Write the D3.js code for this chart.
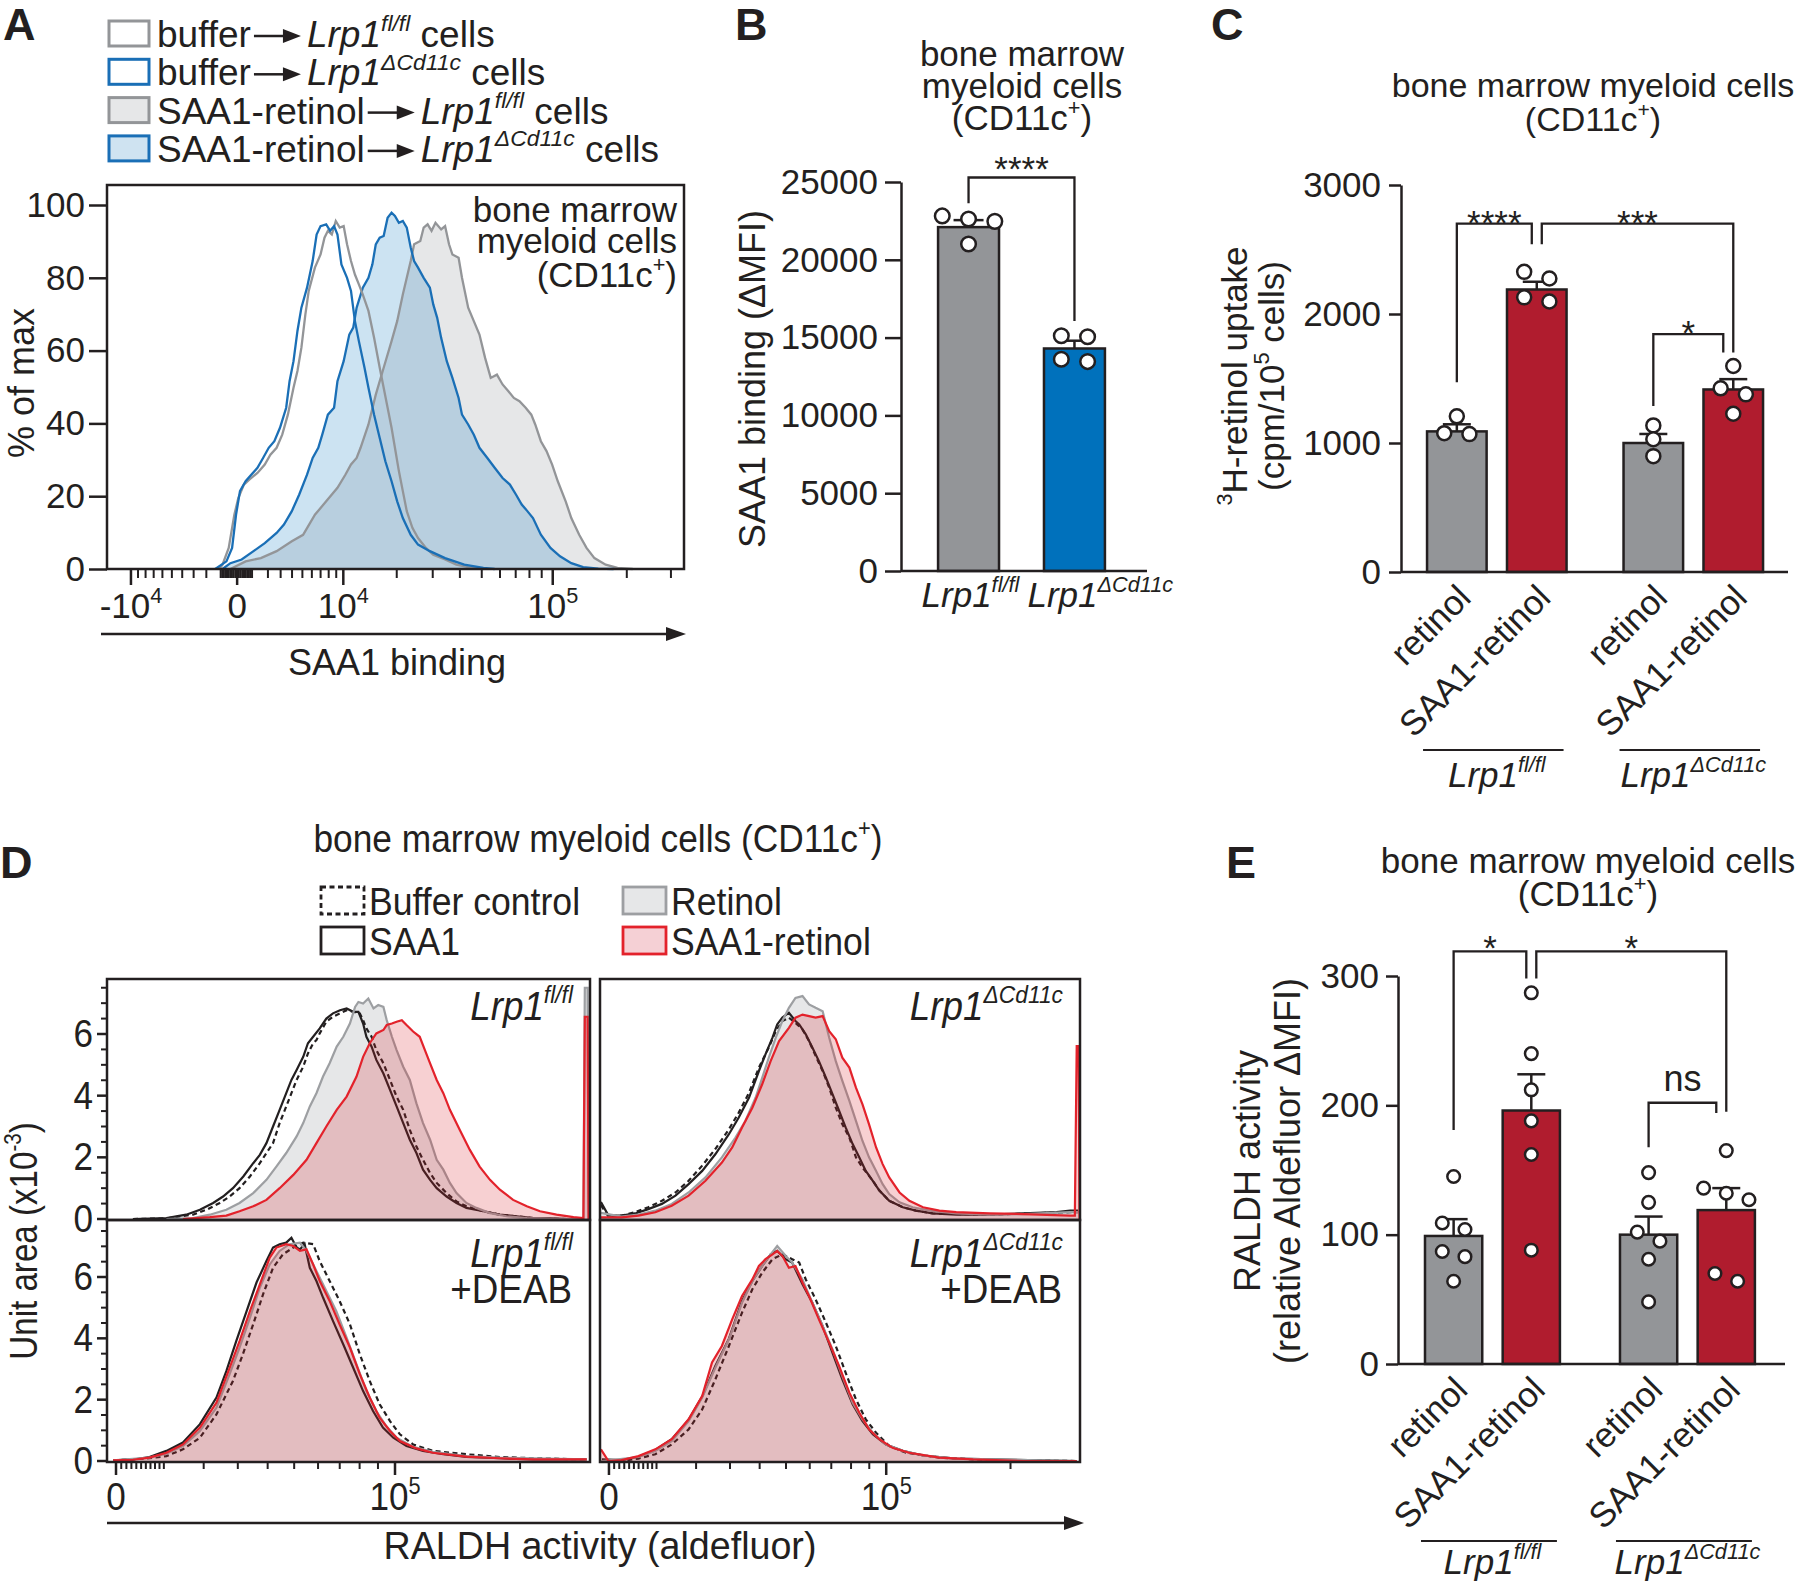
<!DOCTYPE html>
<html>
<head>
<meta charset="utf-8">
<script src="https://cdn.jsdelivr.net/npm/d3@7/dist/d3.min.js"></script>
<style>
html,body{margin:0;padding:0;background:#fff;}
svg{display:block;font-family:"Liberation Sans",Arial,Helvetica,sans-serif;}
</style>
</head>
<body>
<svg id="fig" width="1800" height="1585" viewBox="0 0 1800 1585"></svg>
<script>
// ======================= DATA =======================
// ---- Panel A: histograms, [display channel 0-1024, % of max]
const A_bufferFl = [[199,0],[205,1.2],[216,5.8],[226,14.9],[233,19.5],[243,23.2],[253,24.6],[267,26.4],[280,28.7],[290,31.4],[301,33.3],[311,36.9],[321,42.4],[331,49.8],[338,54.4],[345,60.8],[352,69.9],[358,76.4],[369,82.8],[379,86.4],[386,91.0],[392,92.9],[399,91.9],[406,95.6],[413,93.8],[420,94.2],[426,89.2],[433,84.6],[440,80.9],[447,78.2],[454,75.4],[464,70.9],[474,63.5],[484,55.3],[491,49.8],[498,44.3],[505,38.8],[511,33.3],[518,26.9],[525,21.4],[532,15.9],[542,11.3],[552,8.5],[566,5.8],[579,3.9],[600,2.6],[620,1.2],[641,0.5],[668,0]];
const A_bufferCd = [[192,0],[212,2.1],[222,5.8],[229,14.9],[236,21.4],[246,24.1],[256,25.9],[267,27.8],[277,30.5],[287,33.3],[297,35.1],[307,38.8],[318,44.3],[324,51.6],[331,57.1],[338,65.4],[345,71.8],[355,77.3],[365,84.6],[372,91.9],[379,94.2],[389,94.7],[396,92.9],[403,94.2],[409,91.9],[416,83.7],[426,80.0],[433,76.4],[440,68.1],[447,62.6],[457,55.3],[464,49.8],[474,42.4],[484,36.0],[494,29.6],[505,24.1],[515,18.6],[525,14.0],[539,9.4],[552,6.7],[573,4.9],[600,3.0],[634,1.2],[668,0.3],[688,0]];
const A_saaRetFl = [[219,0],[246,2.1],[273,3.0],[301,4.9],[328,7.6],[348,9.4],[369,14.9],[389,18.6],[409,22.3],[423,25.9],[433,28.7],[443,30.5],[450,33.3],[464,39.7],[477,47.9],[491,55.3],[505,62.6],[515,68.1],[525,75.4],[532,80.0],[539,84.6],[545,89.2],[556,90.1],[562,93.8],[569,94.7],[576,92.9],[583,95.1],[593,93.3],[600,94.2],[607,89.2],[613,86.4],[624,85.5],[630,80.0],[641,71.8],[651,68.1],[661,64.4],[671,58.0],[681,52.5],[692,53.4],[702,50.7],[712,48.9],[722,47.0],[732,46.1],[743,44.3],[753,42.4],[760,39.7],[770,35.1],[780,32.4],[790,28.7],[800,24.1],[814,18.6],[824,14.0],[838,9.4],[851,5.8],[865,3.0],[885,1.2],[906,0.3],[933,0]];
const A_saaRetCd = [[205,0],[219,1.6],[239,2.6],[260,4.9],[280,7.1],[301,9.9],[314,12.2],[328,15.9],[341,20.4],[355,25.9],[365,30.5],[375,33.3],[382,36.9],[392,42.4],[403,44.3],[409,51.6],[420,57.1],[430,64.4],[437,66.3],[443,71.8],[454,77.3],[464,80.0],[471,83.7],[477,89.2],[484,91.0],[491,91.5],[498,96.5],[505,97.9],[511,97.0],[518,95.1],[525,95.6],[532,93.8],[539,88.3],[545,84.6],[552,82.8],[562,80.0],[573,77.3],[579,72.7],[586,69.0],[593,63.5],[603,57.1],[613,52.5],[624,47.0],[630,42.4],[641,39.7],[651,36.9],[661,33.3],[675,30.5],[688,27.8],[702,25.0],[715,23.2],[726,20.4],[736,17.7],[746,15.9],[756,14.0],[770,9.4],[787,5.8],[804,3.5],[824,1.6],[845,0.5],[872,0.1],[899,0]];
const A_yTicks = [0,20,40,60,80,100];
const A_xMajor = [-1e4, 0, 1e4, 1e5];
const A_xMajorLabels = [["-10","4"],["0",""],["10","4"],["10","5"]];
const A_legendPre = ["buffer","buffer","SAA1-retinol","SAA1-retinol"];
const A_legendGeno = ["fl","cd","fl","cd"];
const A_note = ["bone marrow","myeloid cells"];

// ---- Panel B
const B_geno = ["fl","cd"];
const B_means = [22100, 14300];
const B_sem = [450, 500];
const B_points = [[22820,22470,22620,21020],[15058,15116,13459,13605]];
const B_yTicks = [0,5000,10000,15000,20000,25000];
const B_brackets = [{from:0,to:1,top:25290,left:23630,right:16070,label:"****"}];

// ---- Panels C & E (shared categories)
const CE_geno = ["fl","cd"];
const CE_treat = ["retinol","SAA1-retinol"];
const C_means = [1090, 2190, 1000, 1415];
const C_sem = [55, 60, 70, 80];
const C_points = [[1207,1069,1076],[2275,2327,2097,2129],[1136,1029,898],[1597,1424,1377,1227]];
const C_yTicks = [0,1000,2000,3000];
const C_brackets = [
  {from:0,to:1,top:2700,left:1470,right:2541,label:"****"},
  {from:1,to:3,top:2700,left:2541,right:1702,label:"***"},
  {from:2,to:3,top:1844,left:1286,right:1702,label:"*"}];
const E_means = [99, 196, 100, 119];
const E_sem = [13, 28, 14, 17];
const E_points = [[145,109,104,87,83,64],[287,240,212,188,162,88],[148,125,102,95,81,48],[165,136,132,127,70,64]];
const E_yTicks = [0,100,200,300];
const E_brackets = [
  {from:0,to:1,top:319,left:181,right:298,label:"*"},
  {from:1,to:3,top:319,left:298,right:195,label:"*"},
  {from:2,to:3,top:202,left:167.5,right:194,label:"ns"}];

// ---- Panel D: histograms, [display channel 0-1024, unit area x10^-3]
const TL_buffer = [[55,0],[126,0.02],[182,0.14],[211,0.30],[239,0.52],[260,0.73],[281,1.00],[303,1.38],[324,1.81],[338,2.14],[352,2.46],[366,3.11],[380,3.65],[391,4.08],[402,4.51],[416,4.94],[426,5.37],[437,5.70],[444,5.80],[451,6.02],[465,6.40],[479,6.56],[494,6.67],[508,6.77],[522,6.72],[536,6.67],[543,6.45],[550,6.18],[561,5.91],[571,5.48],[586,5.05],[600,4.51],[614,3.97],[628,3.54],[642,2.89],[656,2.35],[670,1.92],[685,1.49],[699,1.17],[720,0.84],[741,0.57],[762,0.41],[798,0.25],[833,0.14],[868,0.09],[904,0.03],[975,0],[1006,0]];
const TL_saa1 = [[55,0],[126,0.03],[168,0.14],[197,0.30],[225,0.52],[246,0.73],[267,1.00],[289,1.38],[310,1.81],[324,2.08],[338,2.46],[352,3.00],[366,3.54],[380,4.08],[391,4.51],[402,4.83],[416,5.26],[426,5.70],[437,5.91],[451,6.18],[465,6.50],[479,6.67],[494,6.77],[508,6.83],[522,6.72],[533,6.72],[543,6.34],[550,5.91],[561,5.59],[571,5.16],[586,4.72],[600,4.19],[614,3.65],[628,3.11],[642,2.57],[656,2.14],[670,1.60],[685,1.27],[699,1.00],[720,0.73],[741,0.52],[762,0.36],[798,0.25],[833,0.14],[868,0.09],[904,0.03],[939,0.03],[975,0],[1006,0]];
const TL_retinol = [[126,0],[182,0.03],[218,0.14],[253,0.30],[281,0.52],[310,0.84],[338,1.27],[359,1.70],[380,2.14],[402,2.68],[416,3.11],[430,3.65],[444,4.08],[458,4.62],[472,5.05],[487,5.59],[501,5.91],[515,6.34],[526,6.88],[533,7.04],[543,6.99],[554,7.15],[565,6.83],[575,6.94],[586,6.88],[593,6.45],[604,5.91],[614,5.48],[628,4.94],[642,4.51],[656,3.75],[670,3.11],[685,2.57],[699,1.92],[713,1.60],[727,1.17],[741,0.84],[762,0.52],[783,0.36],[812,0.19],[847,0.09],[890,0.03],[939,0.01],[1010,0],[1013,7.5],[1019,7.5],[1021,0]];
const TL_saaRet = [[161,0],[218,0.06],[253,0.11],[281,0.25],[310,0.41],[338,0.62],[366,1.00],[395,1.43],[423,1.92],[444,2.46],[465,3.00],[487,3.54],[508,3.97],[529,4.62],[543,5.26],[557,5.70],[571,6.02],[586,6.13],[593,6.29],[604,6.34],[614,6.40],[625,6.45],[635,6.29],[649,6.08],[663,5.91],[674,5.48],[685,5.05],[699,4.51],[713,4.08],[727,3.54],[748,2.89],[769,2.25],[790,1.70],[812,1.27],[833,0.95],[861,0.62],[890,0.41],[918,0.25],[953,0.14],[989,0.06],[1010,0.03],[1013,6.56],[1019,6.56],[1021,0]];

const TR_saa1 = [[2,0.55],[18,0.11],[46,0.11],[75,0.18],[103,0.32],[132,0.49],[161,0.76],[189,1.13],[218,1.56],[246,2.10],[275,2.75],[296,3.29],[318,3.94],[339,4.80],[353,5.34],[368,5.88],[378,6.31],[389,6.53],[403,6.69],[417,6.42],[425,6.31],[439,5.99],[453,5.56],[467,5.12],[482,4.58],[496,4.05],[510,3.51],[524,2.97],[539,2.43],[553,2.00],[567,1.56],[582,1.24],[596,0.92],[617,0.59],[646,0.38],[674,0.27],[710,0.18],[760,0.14],[831,0.14],[903,0.18],[974,0.22],[1003,0.27],[1020,0.27]];
const TR_buffer = [[2,0.45],[18,0.08],[46,0.11],[75,0.22],[103,0.38],[132,0.59],[161,0.86],[189,1.24],[218,1.73],[246,2.27],[275,2.91],[296,3.45],[318,4.10],[339,4.91],[360,5.56],[375,6.09],[389,6.42],[403,6.53],[417,6.36],[432,6.15],[446,5.77],[460,5.29],[475,4.80],[489,4.26],[503,3.61],[517,3.07],[532,2.64],[546,2.00],[560,1.67],[582,1.24],[596,0.92],[617,0.59],[646,0.38],[674,0.27],[710,0.18],[831,0.14],[1003,0.22],[1020,0.22]];
const TR_retinol = [[2,0.2],[46,0.08],[82,0.14],[118,0.27],[153,0.49],[189,0.86],[225,1.35],[260,2.00],[289,2.64],[310,3.18],[332,3.94],[346,4.58],[360,5.23],[375,5.88],[389,6.42],[403,6.85],[417,7.17],[432,7.23],[446,6.96],[460,6.85],[475,6.74],[489,5.88],[503,5.12],[517,4.48],[532,3.83],[546,3.18],[560,2.53],[574,2.00],[589,1.56],[603,1.13],[617,0.81],[639,0.54],[667,0.38],[703,0.27],[760,0.18],[831,0.14],[903,0.16],[1003,0.22],[1020,0.22]];
const TR_saaRet = [[2,0.05],[46,0.05],[82,0.11],[118,0.22],[153,0.43],[189,0.76],[225,1.24],[260,1.83],[282,2.32],[303,2.97],[325,3.61],[346,4.37],[364,5.12],[382,5.77],[403,6.20],[417,6.53],[432,6.63],[446,6.58],[460,6.53],[475,6.58],[489,6.09],[503,5.83],[517,5.23],[532,4.91],[546,4.26],[560,3.72],[574,3.07],[589,2.32],[603,1.78],[617,1.35],[639,0.86],[660,0.59],[689,0.38],[724,0.27],[760,0.22],[831,0.18],[903,0.16],[1003,0.11],[1013,0.11],[1017,5.61],[1021,5.61],[1023,0]];

const BL_saa1 = [[13,0.02],[55,0.05],[90,0.13],[126,0.33],[161,0.60],[197,1.20],[232,2.07],[253,2.93],[274,3.91],[296,4.89],[317,5.82],[338,6.52],[352,6.96],[366,7.07],[380,7.12],[391,7.28],[402,6.96],[409,6.90],[419,7.07],[430,6.30],[444,5.87],[458,5.33],[479,4.57],[501,3.80],[522,3.04],[543,2.28],[564,1.63],[585,1.09],[607,0.76],[635,0.49],[670,0.33],[713,0.22],[762,0.13],[833,0.09],[904,0.05],[1017,0.05]];
const BL_saaRet = [[13,0.02],[55,0.04],[90,0.11],[126,0.27],[161,0.54],[197,1.09],[232,1.90],[260,3.04],[281,3.91],[303,4.89],[324,5.76],[345,6.63],[359,6.96],[380,7.07],[395,7.01],[409,6.85],[423,6.90],[437,6.41],[451,5.87],[472,5.22],[493,4.46],[515,3.70],[536,2.83],[557,2.07],[578,1.41],[600,0.98],[621,0.65],[656,0.41],[691,0.27],[762,0.14],[833,0.09],[904,0.05],[1017,0.05]];
const BL_retinol = [[13,0.02],[90,0.11],[126,0.24],[161,0.49],[197,0.98],[232,1.74],[260,2.83],[281,3.70],[303,4.67],[324,5.65],[345,6.41],[366,6.85],[387,7.07],[409,7.12],[423,6.85],[444,6.20],[465,5.54],[486,4.89],[508,4.02],[529,3.15],[550,2.28],[571,1.63],[592,1.14],[614,0.76],[649,0.46],[691,0.30],[762,0.16],[833,0.11],[1017,0.05]];
const BL_buffer = [[13,0.02],[90,0.09],[126,0.16],[161,0.38],[197,0.76],[232,1.52],[267,2.61],[288,3.48],[310,4.46],[331,5.44],[352,6.30],[373,6.74],[395,6.96],[416,7.12],[437,7.07],[451,6.52],[472,5.87],[493,5.22],[515,4.46],[536,3.48],[557,2.61],[578,1.85],[600,1.30],[621,0.87],[649,0.54],[691,0.33],[762,0.22],[833,0.13],[904,0.09],[1017,0.05]];

const BR_saaRet = [[2,0.38],[18,0],[46,0.03],[82,0.16],[118,0.38],[153,0.71],[189,1.36],[218,2.12],[239,3.21],[260,3.75],[282,4.62],[303,5.38],[325,5.92],[339,6.36],[353,6.58],[368,6.74],[378,6.85],[389,6.69],[403,6.30],[417,6.36],[432,5.82],[446,5.38],[467,4.62],[489,3.86],[510,3.10],[532,2.23],[553,1.58],[574,1.03],[596,0.71],[624,0.43],[660,0.27],[724,0.11],[796,0.05],[903,0],[1017,0]];
const BR_retinol = [[4,0],[82,0.13],[118,0.33],[153,0.65],[189,1.30],[218,2.07],[246,3.04],[275,3.97],[303,5.16],[325,5.87],[346,6.36],[364,6.74],[378,7.01],[396,6.69],[410,6.47],[432,5.92],[453,5.16],[475,4.40],[496,3.64],[517,2.77],[539,1.90],[560,1.36],[582,0.92],[610,0.54],[646,0.33],[689,0.18],[760,0.08],[1017,0]];
const BR_saa1 = [[4,0.05],[46,0.03],[82,0.14],[118,0.36],[153,0.71],[189,1.34],[218,2.10],[246,3.10],[275,3.99],[303,5.22],[325,5.87],[346,6.36],[364,6.74],[378,6.85],[396,6.58],[410,6.47],[432,5.76],[453,5.16],[475,4.40],[496,3.53],[517,2.66],[539,1.85],[560,1.30],[582,0.87],[610,0.54],[646,0.33],[689,0.18],[760,0.08],[1017,0]];
const BR_buffer = [[4,0],[46,0],[82,0.08],[118,0.22],[153,0.54],[189,1.03],[218,1.68],[246,2.66],[275,3.75],[303,4.84],[325,5.60],[346,6.14],[368,6.58],[389,6.74],[410,6.58],[425,6.47],[439,5.92],[460,5.27],[482,4.51],[503,3.75],[524,2.88],[546,2.01],[567,1.36],[589,0.92],[617,0.49],[653,0.27],[724,0.11],[831,0.03],[1017,0]];

const D_yMajor = [0,2,4,6];
const D_xMajor = [0, 1e5];
const D_xMajorLabels = [["0",""],["10","5"]];
const D_legend = ["Buffer control","SAA1","Retinol","SAA1-retinol"];

// ======================= DRAWING =======================
const INK = "#231f20";
const GRAY = "#939598", LGRAY = "#e6e7e8";
const BLUE = "#0071bc", BLUELINE = "#1a6fb6";
const RED = "#b01c2e", REDLINE = "#e3222b";
const svg = d3.select("#fig");
const FS = 35;

function rich(g, x, y, segs, o = {}) {
  const size = o.size || FS;
  const t = g.append("text").attr("font-size", size).attr("fill", INK)
    .attr("text-anchor", o.anchor || "start");
  let tr = `translate(${x},${y})`;
  if (o.rot) tr += ` rotate(${o.rot})`;
  if (o.sx) tr += ` scale(${o.sx},1)`;
  t.attr("transform", tr);
  if (o.weight) t.attr("font-weight", o.weight);
  if (o.dy) t.attr("dy", o.dy);
  let shift = 0;
  (typeof segs === "string" ? [{t: segs}] : segs).forEach(s => {
    const sp = t.append("tspan").text(s.t);
    if (s.i) sp.attr("font-style", "italic");
    const target = s.sup ? -0.42 * size : 0;
    if (target !== shift) sp.attr("dy", target - shift);
    shift = target;
    if (s.sup) sp.attr("font-size", size * 0.62);
  });
  return t;
}
const geno = k => k === "fl"
  ? [{t:"Lrp1", i:1},{t:"fl/fl", i:1, sup:1}]
  : [{t:"Lrp1", i:1},{t:"\u0394Cd11c", i:1, sup:1}];
const cd11c = pre => [{t: pre + "(CD11c"},{t:"+", sup:1},{t:")"}];

function styleAxis(g, size, sw) {
  g.attr("font-size", size).attr("font-family", null).attr("color", INK);
  g.selectAll("line").attr("stroke-width", sw);
  g.selectAll("path").attr("stroke-width", sw);
}
function arrow(g, x0, x1, y, head, half) {
  g.append("line").attr("x1", x0).attr("x2", x1 - head + 2).attr("y1", y).attr("y2", y)
    .attr("stroke", INK).attr("stroke-width", 2.5);
  g.append("path").attr("d", `M${x1},${y}L${x1-head},${y-half}L${x1-head},${y+half}Z`).attr("fill", INK);
}

// panel letters
[["A",3,40],["B",735,40],["C",1211,40],["D",0,878],["E",1226,878]].forEach(([l,x,y]) =>
  rich(svg, x, y, l, {size: 45, weight: "bold"}));

// ---------------- Panel A ----------------
(function(){
  const g = svg.append("g");
  const xA = d3.scaleLinear().domain([0,1024]).range([107,684]);
  const chA = d3.scaleSymlog().constant(6300).domain([-13900,338000]).range([0,1024]);
  const yA = d3.scaleLinear().domain([0,100]).range([569,205]);
  const area = d3.area().x(d=>xA(d[0])).y0(yA(0)).y1(d=>yA(d[1]));
  const line = d3.line().x(d=>xA(d[0])).y(d=>yA(d[1]));
  g.append("path").datum(A_saaRetFl).attr("d", area).attr("fill", LGRAY);
  g.append("path").datum(A_saaRetCd).attr("d", area).attr("fill", BLUE).attr("fill-opacity", 0.2);
  [[A_saaRetFl,GRAY],[A_saaRetCd,BLUELINE],[A_bufferFl,GRAY],[A_bufferCd,BLUELINE]].forEach(([d,c]) =>
    g.append("path").datum(d).attr("d", line).attr("fill","none").attr("stroke", c).attr("stroke-width", 2.3));
  g.append("rect").attr("x",107).attr("y",185).attr("width",577).attr("height",384)
    .attr("fill","none").attr("stroke",INK).attr("stroke-width",2.5);
  const ax = g.append("g").attr("transform","translate(107,0)")
    .call(d3.axisLeft(yA).tickValues(A_yTicks).tickSize(18).tickPadding(4).tickSizeOuter(0));
  ax.select(".domain").remove();
  styleAxis(ax, 35, 2.5);
  const minor = [].concat(d3.range(-9000,0,1000), d3.range(-900,1000,100).filter(v=>v!==0),
    d3.range(2000,10000,1000), d3.range(20000,100000,10000), [200000,300000]);
  minor.forEach(v => g.append("line").attr("x1", xA(chA(v))).attr("x2", xA(chA(v)))
    .attr("y1",569).attr("y2",578).attr("stroke",INK).attr("stroke-width",2));
  A_xMajor.forEach((v,i) => {
    const x = xA(chA(v));
    g.append("line").attr("x1",x).attr("x2",x).attr("y1",569).attr("y2",585).attr("stroke",INK).attr("stroke-width",2.5);
    const [b,s] = A_xMajorLabels[i];
    rich(g, x, 618, s ? [{t:b},{t:s,sup:1}] : b, {anchor:"middle"});
  });
  arrow(g, 101, 686, 634, 20, 7);
  rich(g, 397, 675, "SAA1 binding", {anchor:"middle", size:36});
  rich(g, 34, 383, "% of max", {anchor:"middle", size:36, rot:-90});
  rich(g, 677, 222, A_note[0], {anchor:"end"});
  rich(g, 677, 253, A_note[1], {anchor:"end"});
  rich(g, 677, 287, cd11c(""), {anchor:"end"});
  const sw = [{s:GRAY,f:"#fff"},{s:BLUELINE,f:"#fff"},{s:GRAY,f:LGRAY},{s:BLUELINE,f:"#cfe3f1"}];
  A_legendPre.forEach((pre,i) => {
    const by = 47 + i*38.3;
    g.append("rect").attr("x",109).attr("y",by-26).attr("width",40).attr("height",25)
      .attr("fill",sw[i].f).attr("stroke",sw[i].s).attr("stroke-width",3);
    const t = rich(g, 157, by, pre, {size:37});
    const w = t.node().getComputedTextLength();
    const x0 = 157 + w + 3, x1 = x0 + 47;
    arrow(g, x0, x1, by-11, 18, 7);
    rich(g, x1 + 6, by, geno(A_legendGeno[i]).concat([{t:" cells"}]), {size:37});
  });
})();

// ---------------- bar chart helpers ----------------
function dodge(vals, y, r) {
  const idx = vals.map((v,i)=>i).sort((a,b)=>vals[b]-vals[a]);
  const off = vals.map(()=>0);
  let cl = [idx[0]];
  const flush = () => { const n = cl.length; cl.forEach((k,j)=> off[k] = (j-(n-1)/2)*3.6*r); };
  for (let m=1; m<idx.length; m++) {
    if (Math.abs(y(vals[idx[m-1]]) - y(vals[idx[m]])) < 12) cl.push(idx[m]);
    else { flush(); cl = [idx[m]]; }
  }
  flush();
  return off;
}
function bracketXs(brs, centers) {
  return brs.map((b,k) => {
    let xl = centers[b.from], xr = centers[b.to];
    brs.forEach((o,j) => {
      if (j === k) return;
      if (b.to === o.from && o.to > b.to) xr -= 5;
      if (b.from === o.to && o.from < b.from) xl += 5;
      if ((b.to - b.from) < (o.to - o.from)) {
        if (b.to === o.to) xr -= 10;
        if (b.from === o.from) xl += 10;
      }
    });
    return [xl, xr];
  });
}
function bars(g, cfg) {
  const {xs, bw, y, means, sem, points, colors, r, cap, brackets, starOff} = cfg;
  const centers = xs.map(x => x + bw/2);
  means.forEach((m,i) => {
    g.append("rect").attr("x", xs[i]).attr("y", y(m)).attr("width", bw).attr("height", y(0)-y(m))
      .attr("fill", colors[i]).attr("stroke", INK).attr("stroke-width", 2.5);
    g.append("line").attr("x1",centers[i]).attr("x2",centers[i]).attr("y1",y(m)).attr("y2",y(m+sem[i]))
      .attr("stroke",INK).attr("stroke-width",2.5);
    g.append("line").attr("x1",centers[i]-cap/2).attr("x2",centers[i]+cap/2).attr("y1",y(m+sem[i])).attr("y2",y(m+sem[i]))
      .attr("stroke",INK).attr("stroke-width",2.5);
  });
  points.forEach((pts,i) => {
    const off = dodge(pts, y, r);
    pts.forEach((v,j) => g.append("circle").attr("cx", centers[i]+off[j]).attr("cy", y(v)).attr("r", r)
      .attr("fill","#fff").attr("stroke",INK).attr("stroke-width",2.5));
  });
  const bx = bracketXs(brackets, centers);
  brackets.forEach((b,k) => {
    const [xl,xr] = bx[k];
    g.append("path").attr("d", `M${xl},${y(b.left)}V${y(b.top)}H${xr}V${y(b.right)}`)
      .attr("fill","none").attr("stroke",INK).attr("stroke-width",2.3);
    const isStar = b.label.indexOf("*") >= 0;
    rich(g, (xl+xr)/2, isStar ? y(b.top)+starOff : y(b.top)-12, b.label, {anchor:"middle", size: isStar ? 35 : 36});
  });
  return centers;
}

// ---------------- Panel B ----------------
(function(){
  const g = svg.append("g");
  const y = d3.scaleLinear().domain([0,25000]).range([571,182]);
  const x = d3.scaleBand().domain(B_geno).range([901,1142]).paddingInner(0.4245).paddingOuter(0.35);
  rich(g, 1022, 66, A_note[0], {anchor:"middle"});
  rich(g, 1022, 98, A_note[1], {anchor:"middle"});
  rich(g, 1022, 130, cd11c(""), {anchor:"middle"});
  const centers = bars(g, {xs: B_geno.map(k=>x(k)), bw: x.bandwidth(), y, means:B_means, sem:B_sem,
    points:B_points, colors:[GRAY, BLUE], r:7.3, cap:30, brackets:B_brackets, starOff:4});
  const ax = g.append("g").attr("transform","translate(901,0)")
    .call(d3.axisLeft(y).tickValues(B_yTicks).tickSize(16).tickPadding(7).tickSizeOuter(0).tickFormat(d3.format("d")));
  styleAxis(ax, 35, 2.5);
  g.append("line").attr("x1",901).attr("x2",1147).attr("y1",y(0)).attr("y2",y(0)).attr("stroke",INK).attr("stroke-width",2.5);
  B_geno.forEach((k,i) => rich(g, centers[i]-47, 607, geno(k)));
  rich(g, 765, 379, [{t:"SAA1 binding (\u0394MFI)"}], {anchor:"middle", size:36, rot:-90});
})();

// ---------------- Panels C & E ----------------
function groupedPanel(cfg) {
  const g = svg.append("g");
  const {y, outer, innerPad, axisX, axisEnd, tickSize, pad, ticks, means, sem, points, brackets,
         r, cap, starOff, groupLineY, groupLabelY} = cfg;
  const inner = d3.scaleBand().domain(CE_treat).range([0, outer.bandwidth()]).paddingInner(innerPad);
  const xs = [], colors = [];
  CE_geno.forEach(gk => CE_treat.forEach((tk,ti) => { xs.push(outer(gk) + inner(tk)); colors.push(ti ? RED : GRAY); }));
  const centers = bars(g, {xs, bw: inner.bandwidth(), y, means, sem, points, colors, r, cap, brackets, starOff});
  const ax = g.append("g").attr("transform",`translate(${axisX},0)`)
    .call(d3.axisLeft(y).tickValues(ticks).tickSize(tickSize).tickPadding(pad).tickSizeOuter(0).tickFormat(d3.format("d")));
  styleAxis(ax, 35, 2.5);
  g.append("line").attr("x1",axisX).attr("x2",axisEnd).attr("y1",y(0)).attr("y2",y(0)).attr("stroke",INK).attr("stroke-width",2.5);
  centers.forEach((cx,i) => {
    g.append("text").attr("transform",`translate(${cx-2},${y(0)+10}) rotate(-45)`)
      .attr("text-anchor","end").attr("dy","0.72em").attr("font-size",35).attr("fill",INK)
      .text(CE_treat[i%2]);
  });
  CE_geno.forEach(gk => {
    const x0 = outer(gk), x1 = x0 + outer.bandwidth();
    g.append("line").attr("x1",x0-4).attr("x2",x1-3).attr("y1",groupLineY).attr("y2",groupLineY)
      .attr("stroke",INK).attr("stroke-width",2);
    rich(g, (x0+x1)/2, groupLabelY, geno(gk), {anchor:"middle"});
  });
  return g;
}
(function(){
  const y = d3.scaleLinear().domain([0,3000]).range([572,185]);
  const outer = d3.scaleBand().domain(CE_geno).range([1407.4,1782.7]).paddingInner(0.29).paddingOuter(0.1);
  const g = groupedPanel({y, outer, innerPad:0.255, axisX:1401, axisEnd:1788, tickSize:12, pad:8, ticks:C_yTicks,
    means:C_means, sem:C_sem, points:C_points, brackets:C_brackets, r:7, cap:28, starOff:11, groupLineY:750, groupLabelY:787});
  rich(g, 1593, 97, A_note[0] + " " + A_note[1], {anchor:"middle", size:34});
  rich(g, 1593, 131, cd11c(""), {anchor:"middle", size:34});
  rich(g, 1247, 376, [{t:"3",sup:1},{t:"H-retinol uptake"}], {anchor:"middle", rot:-90});
  rich(g, 1284, 376, [{t:"(cpm/10"},{t:"5",sup:1},{t:" cells)"}], {anchor:"middle", rot:-90});
})();
(function(){
  const y = d3.scaleLinear().domain([0,300]).range([1364,976]);
  const outer = d3.scaleBand().domain(CE_geno).range([1405.5,1774.4]).paddingInner(0.308).paddingOuter(0.1);
  const g = groupedPanel({y, outer, innerPad:0.263, axisX:1398, axisEnd:1785, tickSize:12, pad:7, ticks:E_yTicks,
    means:E_means, sem:E_sem, points:E_points, brackets:E_brackets, r:6.3, cap:28, starOff:9, groupLineY:1541, groupLabelY:1574});
  rich(g, 1588, 873, A_note[0] + " " + A_note[1], {anchor:"middle"});
  rich(g, 1588, 906, cd11c(""), {anchor:"middle"});
  rich(g, 1260, 1171, "RALDH activity", {anchor:"middle", size:36, rot:-90});
  rich(g, 1300, 1171, "(relative Aldefluor \u0394MFI)", {anchor:"middle", size:36, rot:-90});
})();

// ---------------- Panel D ----------------
(function(){
  const g = svg.append("g");
  const DF = 39;
  const cols = [[107,590],[600,1080]];
  const rows = [{zero:1219, six:1034, top:979, bottom:1220}, {zero:1461, six:1277, top:1220, bottom:1462}];
  const chD = d3.scaleSymlog().constant(45000).domain([-1733,283500]).range([0,1024]);
  const panels = [
    {c:0, r:0, d:[TL_buffer,TL_saa1,TL_retinol,TL_saaRet], g:"fl", deab:false},
    {c:1, r:0, d:[TR_buffer,TR_saa1,TR_retinol,TR_saaRet], g:"cd", deab:false},
    {c:0, r:1, d:[BL_buffer,BL_saa1,BL_retinol,BL_saaRet], g:"fl", deab:true},
    {c:1, r:1, d:[BR_buffer,BR_saa1,BR_retinol,BR_saaRet], g:"cd", deab:true}];
  panels.forEach(p => {
    const x = d3.scaleLinear().domain([0,1024]).range(cols[p.c]);
    const R = rows[p.r];
    const y = d3.scaleLinear().domain([0,6]).range([R.zero, R.six]);
    const area = d3.area().x(d=>x(d[0])).y0(y(0)).y1(d=>y(d[1]));
    const line = d3.line().x(d=>x(d[0])).y(d=>y(d[1]));
    const [buf, saa, ret, sr] = p.d;
    g.append("path").datum(ret).attr("d", area).attr("fill", LGRAY);
    g.append("path").datum(buf).attr("d", line).attr("fill","none").attr("stroke",INK).attr("stroke-width",2.2).attr("stroke-dasharray","5,3.5");
    g.append("path").datum(saa).attr("d", line).attr("fill","none").attr("stroke",INK).attr("stroke-width",2.2);
    g.append("path").datum(ret).attr("d", line).attr("fill","none").attr("stroke","#9d9fa2").attr("stroke-width",2.2);
    g.append("path").datum(sr).attr("d", area).attr("fill", "#d71f2c").attr("fill-opacity", 0.21);
    g.append("path").datum(sr).attr("d", line).attr("fill","none").attr("stroke",REDLINE).attr("stroke-width",2.2);
    g.append("rect").attr("x",cols[p.c][0]).attr("y",R.top).attr("width",cols[p.c][1]-cols[p.c][0]).attr("height",R.bottom-R.top)
      .attr("fill","none").attr("stroke",INK).attr("stroke-width",2.5);
    const rx = cols[p.c][1] - 17;
    rich(g, rx, p.r ? 1267 : 1020, geno(p.g), {anchor:"end", size:40, sx:0.92});
    if (p.deab) rich(g, rx - 1, 1303, "+DEAB", {anchor:"end", size:40, sx:0.92});
    if (p.c === 0) {
      d3.range(0.5, 7.8, 0.5).filter(v => v % 2 !== 0).forEach(v =>
        g.append("line").attr("x1",101).attr("x2",107).attr("y1",y(v)).attr("y2",y(v)).attr("stroke",INK).attr("stroke-width",2));
      D_yMajor.forEach(v => {
        g.append("line").attr("x1",97).attr("x2",107).attr("y1",y(v)).attr("y2",y(v)).attr("stroke",INK).attr("stroke-width",2.5);
        rich(g, 93, y(v) + 13, String(v), {anchor:"end", size:DF, sx:0.9});
      });
    }
    if (p.r === 1) {
      const minor = [].concat(d3.range(1000,10000,1000), d3.range(10000,100000,10000), [200000]);
      minor.forEach(v => g.append("line").attr("x1",x(chD(v))).attr("x2",x(chD(v))).attr("y1",1462).attr("y2",1469)
        .attr("stroke",INK).attr("stroke-width",2));
      D_xMajor.forEach((v,i) => {
        const xx = x(chD(v));
        g.append("line").attr("x1",xx).attr("x2",xx).attr("y1",1462).attr("y2",1475).attr("stroke",INK).attr("stroke-width",2.5);
        const [b,s] = D_xMajorLabels[i];
        rich(g, xx, 1510, s ? [{t:b},{t:s,sup:1}] : b, {anchor:"middle", size:DF, sx:0.9});
      });
    }
  });
  arrow(g, 107, 1084, 1523, 20, 7);
  rich(g, 600, 1559, "RALDH activity (aldefluor)", {anchor:"middle", size:DF, sx:0.965});
  rich(g, 37, 1241, [{t:"Unit area (x10"},{t:"-3",sup:1},{t:")"}], {anchor:"middle", size:DF, rot:-90, sx:0.85});
  rich(g, 598, 852, cd11c("bone marrow myeloid cells "), {anchor:"middle", size:DF, sx:0.905});
  const sw = [{x:321, y:915, s:INK, f:"none", dash:"5,3.5"}, {x:321, y:955, s:INK, f:"none"},
              {x:623, y:915, s:"#9d9fa2", f:LGRAY}, {x:623, y:955, s:REDLINE, f:"#f5d0d5"}];
  D_legend.forEach((lab,i) => {
    const s = sw[i];
    const rct = g.append("rect").attr("x",s.x).attr("y",s.y-28).attr("width",43).attr("height",27)
      .attr("fill",s.f).attr("stroke",s.s).attr("stroke-width",2.8);
    if (s.dash) rct.attr("stroke-dasharray", s.dash);
    rich(g, s.x + 48, s.y, lab, {size:DF, sx:0.913});
  });
})();
</script>
</body>
</html>
